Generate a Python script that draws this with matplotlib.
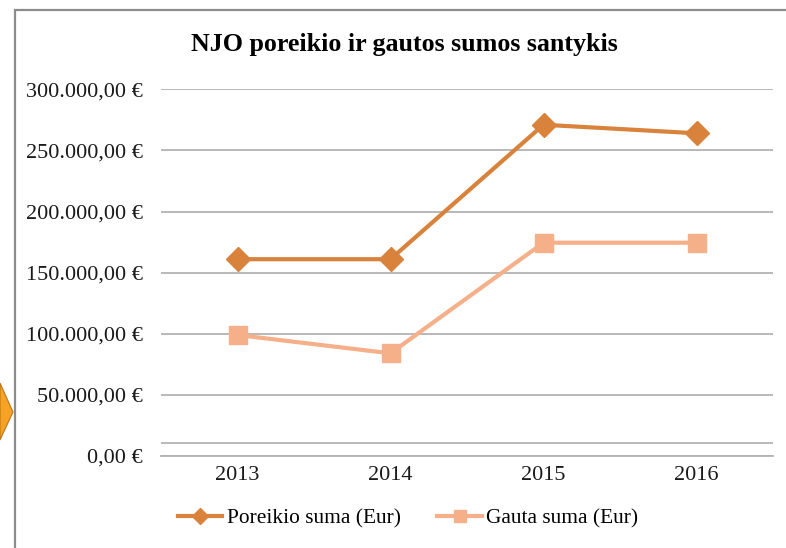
import matplotlib.pyplot as plt
from matplotlib.patches import Polygon, Rectangle
from matplotlib.ticker import FuncFormatter

years = ['2013', '2014', '2015', '2016']
poreikio = [161000, 161000, 271000, 264000]
gauta = [99000, 84000, 174500, 174500]
yticks = [0, 50000, 100000, 150000, 200000, 250000, 300000]

plt.rcParams['font.family'] = ['Liberation Serif', 'DejaVu Serif']

W, H = 786, 548
fig = plt.figure(figsize=(W / 100, H / 100), dpi=100)
ax = fig.add_axes([161 / W, 1 - 456 / H, (773 - 161) / W, (456 - 89.3) / H])

def eur(v, pos=None):
    s = f"{v:,.2f}".replace(',', 'X').replace('.', ',').replace('X', '.')
    return s + ' €'

x = range(len(years))
ax.plot(x, poreikio, color='#D8823B', lw=3, marker='D', ms=12,
        label='Poreikio suma (Eur)', zorder=3)
ax.plot(x, gauta, color='#F5B08A', lw=3, marker='s', ms=12.5,
        label='Gauta suma (Eur)', zorder=3)

ax.set_xlim(-0.5, 3.5)
ax.set_ylim(0, 300000)
ax.set_yticks(yticks)
ax.yaxis.set_major_formatter(FuncFormatter(eur))
ax.set_xticks(list(x))
ax.set_xticklabels(years)
ax.grid(axis='y', color='#B3B3B3', lw=1.3)
ax.set_axisbelow(True)
for s in ['top', 'right', 'left']:
    ax.spines[s].set_visible(False)
ax.spines['bottom'].set_color('#B3B3B3')
ax.spines['bottom'].set_linewidth(1.3)
# second thin line just above the base
ax.axhline(10600, color='#B3B3B3', lw=1.3, zorder=1)
ax.tick_params(axis='both', length=0, labelsize=16, colors='#1a1a1a')
ax.tick_params(axis='y', pad=13)
ax.tick_params(axis='x', pad=7)

fig.text(404 / W, 1 - 45 / H, 'NJO poreikio ir gautos sumos santykis',
         ha='center', va='center', fontsize=18.7, fontweight='bold')

fig.legend(loc='center', bbox_to_anchor=(408 / W, 1 - 518 / H), ncol=2,
           frameon=False, fontsize=15.4, handlelength=2.1, handletextpad=0.2,
           columnspacing=1.7, markerscale=0.65)

# chart frame and the cut-off arrow on the left
fig.patches.append(Rectangle((15 / W, -0.1), 1.2, 1.1 - 10 / H,
                             transform=fig.transFigure, fill=False,
                             edgecolor='#8C8C8C', lw=1.6))
fig.patches.append(Polygon([(0, 1 - 383 / H), (13 / W, 1 - 412 / H), (0, 1 - 440 / H)],
                           closed=True, transform=fig.transFigure,
                           facecolor='#F7A224', edgecolor='#B87818', lw=0.8))

fig.savefig('out.png', dpi=100)
